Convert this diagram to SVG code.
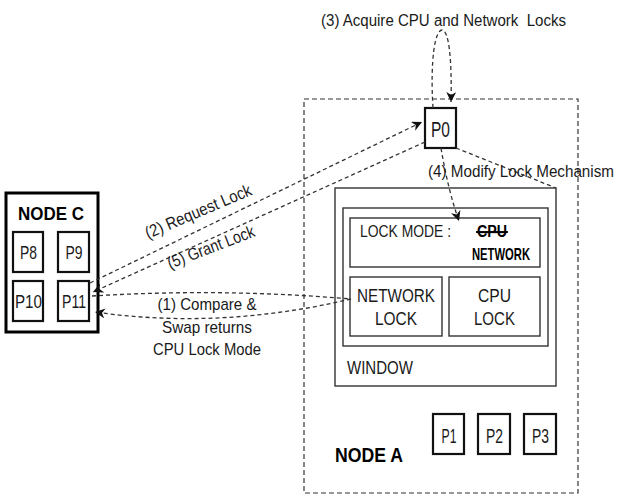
<svg xmlns="http://www.w3.org/2000/svg" width="617" height="498" viewBox="0 0 617 498">
  <style>
    text { font-family: "Liberation Sans", Arial, sans-serif; fill: #1a1a1a; lengthAdjust: spacingAndGlyphs; }
    .b { font-weight: bold; fill: #000; }
    .c { text-anchor: middle; }
    .proc { fill: #fff; stroke: #111; stroke-width: 2.2; }
    .box { fill: #fff; stroke: #333; stroke-width: 1.4; }
    .dash { fill: none; stroke: #333; stroke-width: 1.3; stroke-dasharray: 4 3; }
    .frame { fill: none; stroke: #333; stroke-width: 1.2; stroke-dasharray: 5 3; }
  </style>
  <defs>
    <marker id="arrow" viewBox="0 0 10 10" refX="10" refY="5" markerWidth="10" markerHeight="10" markerUnits="userSpaceOnUse" orient="auto">
      <path d="M0,0 L10,5 L0,10 L3,5 z" fill="#111"/>
    </marker>
  </defs>
  <rect width="617" height="498" fill="#fff"/>

  <!-- Node A frame -->
  <g id="node-a">
    <rect class="frame" x="304" y="99" width="274" height="394"/>
    <text class="b" x="335" y="462" font-size="21" textLength="68" lengthAdjust="spacingAndGlyphs">NODE A</text>
  </g>

  <!-- Window with lock mode and locks -->
  <g id="window">
    <rect class="box" x="335" y="188" width="221" height="198"/>
    <rect class="box" x="343" y="208" width="205" height="138"/>
    <text x="347" y="374" font-size="19" textLength="66" lengthAdjust="spacingAndGlyphs">WINDOW</text>
  </g>
  <g id="lock-mode">
    <rect class="box" x="350" y="218" width="190" height="49"/>
    <text x="360" y="237" font-size="17" textLength="91" lengthAdjust="spacingAndGlyphs">LOCK MODE :</text>
    <text class="b" x="477" y="237" font-size="16" textLength="30" lengthAdjust="spacingAndGlyphs" text-decoration="line-through">CPU</text>
    <line x1="476" y1="232" x2="508" y2="232" stroke="#000" stroke-width="1.8"/>
    <text class="b" x="472" y="260" font-size="17" textLength="58" lengthAdjust="spacingAndGlyphs">NETWORK</text>
  </g>
  <g id="network-lock">
    <rect class="box" x="350" y="277" width="92" height="59"/>
    <text class="c" x="396" y="302" font-size="19" textLength="78" lengthAdjust="spacingAndGlyphs">NETWORK</text>
    <text class="c" x="396" y="325" font-size="19" textLength="42" lengthAdjust="spacingAndGlyphs">LOCK</text>
  </g>
  <g id="cpu-lock">
    <rect class="box" x="449" y="277" width="91" height="59"/>
    <text class="c" x="494.5" y="302" font-size="19" textLength="33" lengthAdjust="spacingAndGlyphs">CPU</text>
    <text class="c" x="494.5" y="325" font-size="19" textLength="41" lengthAdjust="spacingAndGlyphs">LOCK</text>
  </g>

  <!-- Processes on node A -->
  <g id="p0">
    <rect class="proc" x="425" y="108" width="31" height="40"/>
    <text class="c" x="440.5" y="137" font-size="22" textLength="19" lengthAdjust="spacingAndGlyphs">P0</text>
  </g>
  <g id="p1">
    <rect class="proc" x="433" y="414" width="31" height="40"/>
    <text class="c" x="449" y="443" font-size="20" textLength="15" lengthAdjust="spacingAndGlyphs">P1</text>
  </g>
  <g id="p2">
    <rect class="proc" x="478" y="414" width="32" height="40"/>
    <text class="c" x="494.5" y="443" font-size="20" textLength="17" lengthAdjust="spacingAndGlyphs">P2</text>
  </g>
  <g id="p3">
    <rect class="proc" x="524" y="414" width="32" height="40"/>
    <text class="c" x="540.5" y="443" font-size="20" textLength="17" lengthAdjust="spacingAndGlyphs">P3</text>
  </g>

  <!-- Node C -->
  <g id="node-c">
    <rect x="6" y="193" width="92" height="139" fill="#fff" stroke="#000" stroke-width="3"/>
    <text class="b" x="18" y="220" font-size="19" textLength="66" lengthAdjust="spacingAndGlyphs">NODE C</text>
  </g>
  <g id="p8">
    <rect class="proc" x="13" y="232" width="30" height="40"/>
    <text class="c" x="28.5" y="259" font-size="19" textLength="17" lengthAdjust="spacingAndGlyphs">P8</text>
  </g>
  <g id="p9">
    <rect class="proc" x="58" y="232" width="31" height="40"/>
    <text class="c" x="74" y="259" font-size="19" textLength="17" lengthAdjust="spacingAndGlyphs">P9</text>
  </g>
  <g id="p10">
    <rect class="proc" x="13" y="281" width="30" height="40"/>
    <text class="c" x="28.5" y="308" font-size="19" textLength="27" lengthAdjust="spacingAndGlyphs">P10</text>
  </g>
  <g id="p11">
    <rect class="proc" x="58" y="281" width="31" height="40"/>
    <text class="c" x="74" y="308" font-size="19" textLength="24" lengthAdjust="spacingAndGlyphs">P11</text>
  </g>

  <!-- Connectors -->
  <g id="connectors">
    <!-- (3) self loop on P0 -->
    <path class="dash" d="M433,108 C430,60 435,30 442,30 C449,30 452,60 451,102" marker-end="url(#arrow)"/>
    <!-- (2) request lock -->
    <path class="dash" d="M90,283 L422,122" marker-end="url(#arrow)"/>
    <!-- (5) grant lock -->
    <path class="dash" d="M425,142 L93,292" marker-end="url(#arrow)"/>
    <!-- (4) modify lock mechanism -->
    <path class="dash" d="M441,148 Q448,190 459,221" marker-end="url(#arrow)"/>
    <path class="dash" d="M456,148 L556,188"/>
    <!-- (1) compare and swap -->
    <path class="dash" d="M92,296 Q222,288 351,299"/>
    <path class="dash" d="M351,299 Q220,330 95,312" marker-end="url(#arrow)"/>
  </g>

  <!-- Step labels -->
  <g id="labels">
    <text x="321" y="26" font-size="16" textLength="245" lengthAdjust="spacingAndGlyphs" xml:space="preserve">(3) Acquire CPU and Network  Locks</text>
    <text x="428" y="177" font-size="16" textLength="186" lengthAdjust="spacingAndGlyphs">(4) Modify Lock Mechanism</text>
    <text x="148" y="239" font-size="17" textLength="114" lengthAdjust="spacingAndGlyphs" transform="rotate(-23 148 239)">(2) Request Lock</text>
    <text x="170" y="269" font-size="17" textLength="92" lengthAdjust="spacingAndGlyphs" transform="rotate(-21 170 269)">(5) Grant Lock</text>
    <text class="c" x="207" y="310" font-size="17" textLength="99" lengthAdjust="spacingAndGlyphs">(1) Compare &amp;</text>
    <text class="c" x="207" y="333" font-size="17" textLength="90" lengthAdjust="spacingAndGlyphs">Swap returns</text>
    <text class="c" x="207" y="355" font-size="17" textLength="108" lengthAdjust="spacingAndGlyphs">CPU Lock Mode</text>
  </g>
</svg>
